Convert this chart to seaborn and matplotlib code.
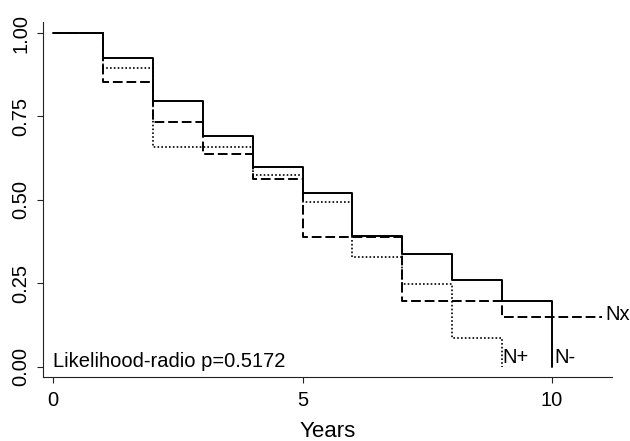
import matplotlib
matplotlib.use("Agg")
import matplotlib.pyplot as plt
import seaborn as sns
import pandas as pd

# Kaplan-Meier survival estimates by nodal status (yearly steps)
years_nneg = [0, 1, 2, 3, 4, 5, 6, 7, 8, 9, 10]
surv_nneg = [1.0, 0.926, 0.797, 0.692, 0.599, 0.522, 0.392, 0.338, 0.260, 0.196, 0.0]

years_nx = [0, 1, 2, 3, 4, 5, 6, 7, 8, 9, 11]
surv_nx = [1.0, 0.853, 0.734, 0.637, 0.564, 0.390, 0.390, 0.197, 0.197, 0.148, 0.148]

years_npos = [0, 1, 2, 3, 4, 5, 6, 7, 8, 9]
surv_npos = [1.0, 0.894, 0.658, 0.658, 0.575, 0.495, 0.328, 0.247, 0.085, 0.0]

group_labels = ["N-", "Nx", "N+"]
y_ticks = [0.0, 0.25, 0.5, 0.75, 1.0]
x_ticks = [0, 5, 10]
note_text = "Likelihood-radio p=0.5172"

sns.set_style("ticks")
plt.rcParams["font.family"] = ["Liberation Sans", "DejaVu Sans"]
for key in ["text.color", "axes.labelcolor", "xtick.color", "ytick.color"]:
    plt.rcParams[key] = "black"

fig = plt.figure(figsize=(6.3, 4.41), dpi=100)
ax = fig.add_axes([0.0678, 0.1458, 0.9032, 0.8050])

frames = [
    pd.DataFrame({"year": years_nneg, "surv": surv_nneg, "group": group_labels[0]}),
    pd.DataFrame({"year": years_nx, "surv": surv_nx, "group": group_labels[1]}),
    pd.DataFrame({"year": years_npos, "surv": surv_npos, "group": group_labels[2]}),
]
styles = {
    "N-": dict(linestyle="-", lw=1.4),
    "Nx": dict(linestyle=(0, (5.0, 2.0)), lw=1.4),
    "N+": dict(linestyle=(0, (1.0, 1.3)), lw=1.2),
}
for df in frames:
    g = df["group"].iloc[0]
    sns.lineplot(data=df, x="year", y="surv", drawstyle="steps-post",
                 color="black", ax=ax, estimator=None, sort=False,
                 **styles[g])

# end-of-curve labels
fs = 14.5
ax.text(years_npos[-1], surv_npos[-1] + 0.012, "N+", fontsize=fs,
        ha="left", va="baseline")
ax.text(years_nneg[-1] + 0.05, surv_nneg[-1] + 0.01, "N-", fontsize=fs,
        ha="left", va="baseline")
ax.text(years_nx[-1] + 0.08, surv_nx[-1] - 0.007, "Nx", fontsize=fs,
        ha="left", va="baseline")
ax.text(0, 0.0, note_text, fontsize=fs, ha="left", va="baseline")

ax.set_xlim(-0.21, 11.2)
ax.set_ylim(-0.03, 1.034)
ax.set_xticks(x_ticks)
ax.set_xticklabels([str(t) for t in x_ticks], fontsize=fs)
ax.set_yticks(y_ticks)
ax.set_yticklabels([f"{t:.2f}" for t in y_ticks], fontsize=fs,
                   rotation=90, va="center")
ax.set_xlabel("Years", fontsize=16, labelpad=8)
ax.set_ylabel("")

for side in ["top", "right"]:
    ax.spines[side].set_visible(False)
for side in ["left", "bottom"]:
    ax.spines[side].set_linewidth(0.8)
    ax.spines[side].set_color("#222222")
ax.tick_params(axis="both", direction="out", length=4, width=0.8,
               color="#222222")
ax.tick_params(axis="x", pad=6)
ax.tick_params(axis="y", pad=5)

fig.savefig("out.png", dpi=100)
